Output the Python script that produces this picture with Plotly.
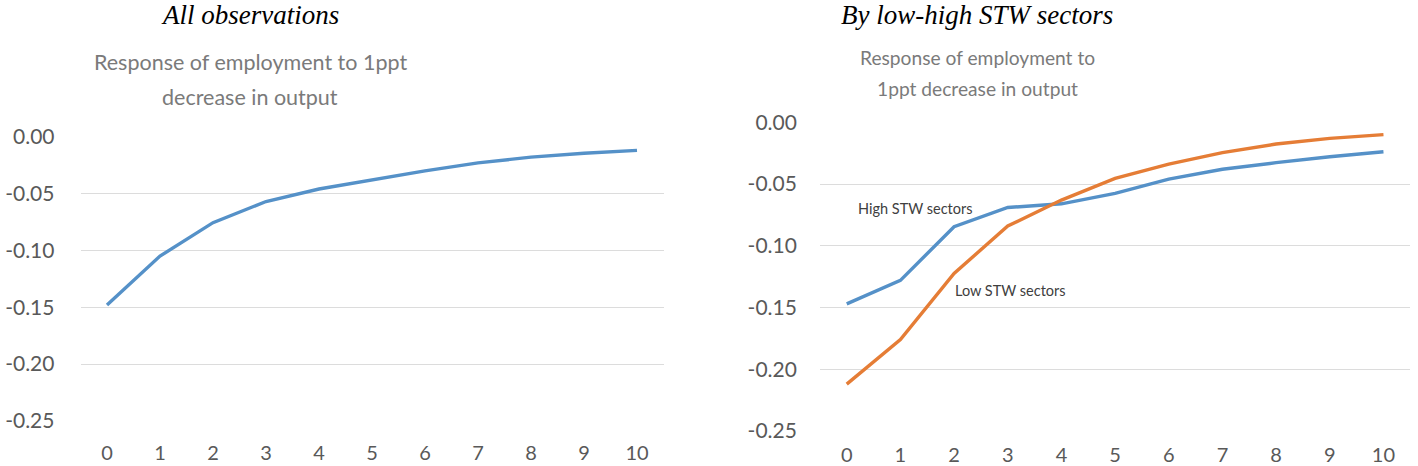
import plotly.graph_objects as go

horizons = list(range(11))
all_obs = [-0.148, -0.105, -0.0756, -0.057, -0.046, -0.038, -0.030, -0.023, -0.018, -0.0146, -0.012]
high_stw = [-0.147, -0.128, -0.0846, -0.069, -0.066, -0.0575, -0.046, -0.038, -0.0327, -0.0279, -0.0238]
low_stw = [-0.212, -0.176, -0.1224, -0.084, -0.063, -0.0454, -0.0338, -0.0246, -0.0176, -0.013, -0.010]
y_ticks = [0.0, -0.05, -0.10, -0.15, -0.20, -0.25]
y_tick_text = ["0.00", "-0.05", "-0.10", "-0.15", "-0.20", "-0.25"]

BLUE = "#5591c8"
ORANGE = "#e57d36"
GRID = "#dcdcdc"
TICKC = "#595959"
W, H = 1418, 466

fig = go.Figure()
fig.add_trace(go.Scatter(x=horizons, y=all_obs, mode="lines", line=dict(color=BLUE, width=3.4),
                         xaxis="x", yaxis="y", showlegend=False))
fig.add_trace(go.Scatter(x=horizons, y=high_stw, mode="lines", line=dict(color=BLUE, width=3.4),
                         xaxis="x2", yaxis="y2", showlegend=False, name="High STW sectors"))
fig.add_trace(go.Scatter(x=horizons, y=low_stw, mode="lines", line=dict(color=ORANGE, width=3.4),
                         xaxis="x2", yaxis="y2", showlegend=False, name="Low STW sectors"))

tickfont = dict(family="Lato, Carlito, sans-serif", size=21, color=TICKC)
xtickfont = dict(family="Lato, Carlito, sans-serif", size=20, color=TICKC)

def xaxis(domain, anchor, standoff):
    return dict(domain=domain, anchor=anchor, range=[-0.5, 10.5], tickvals=horizons,
                showgrid=False, zeroline=False, showline=False, ticks="", automargin=False,
                tickfont=xtickfont, ticklabelstandoff=standoff, fixedrange=True)

def yaxis(domain, anchor, standoff):
    return dict(domain=domain, anchor=anchor, range=[-0.25, 0.0], tickvals=y_ticks,
                ticktext=y_tick_text, showgrid=True, gridcolor=GRID, gridwidth=1.2,
                zeroline=False, showline=False, ticks="", tickfont=tickfont, automargin=False,
                ticklabelstandoff=standoff, fixedrange=True)

fig.update_layout(
    template="none",
    width=W, height=H, margin=dict(l=0, r=0, t=0, b=0, pad=0, autoexpand=False),
    paper_bgcolor="white", plot_bgcolor="white",
    xaxis=xaxis([80.5 / W, 663.5 / W], "y", 18),
    yaxis=yaxis([(H - 421) / H, (H - 136.7) / H], "x", 25),
    xaxis2=xaxis([819.9 / W, 1410.3 / W], "y2", 10),
    yaxis2=yaxis([(H - 431) / H, (H - 122.3) / H], "x2", 22),
)

title_font = dict(family="Liberation Serif, Times New Roman, serif", size=27, color="black")
sub_font = dict(family="Lato, Carlito, sans-serif", size=21.5, color="#7a7a7a")
sub_font2 = dict(family="Lato, Carlito, sans-serif", size=19.2, color="#7a7a7a")
label_font = dict(family="Lato, Carlito, sans-serif", size=14.5, color="#404040")

annots = [
    dict(text="<i>All observations</i>", x=250 / W, y=1 - 15 / H, font=title_font),
    dict(text="<i>By low-high STW sectors</i>", x=977 / W, y=1 - 15 / H, font=title_font),
    dict(text="Response of employment to 1ppt", x=250 / W, y=1 - 62 / H, font=sub_font),
    dict(text="decrease in output", x=250 / W, y=1 - 97 / H, font=sub_font),
    dict(text="Response of employment to", x=977 / W, y=1 - 57 / H, font=sub_font2),
    dict(text="1ppt decrease in output", x=977 / W, y=1 - 88 / H, font=sub_font2),
    dict(text="High STW sectors", x=915 / W, y=1 - 208 / H, font=label_font),
    dict(text="Low STW sectors", x=1010 / W, y=1 - 290 / H, font=label_font),
]
fig.update_layout(annotations=[dict(a, xref="paper", yref="paper", xanchor="center",
                                    yanchor="middle", showarrow=False) for a in annots])

fig.write_html("out.html", config={"displayModeBar": False},
               post_script="document.body.style.margin='0px';document.body.style.overflow='hidden';")
